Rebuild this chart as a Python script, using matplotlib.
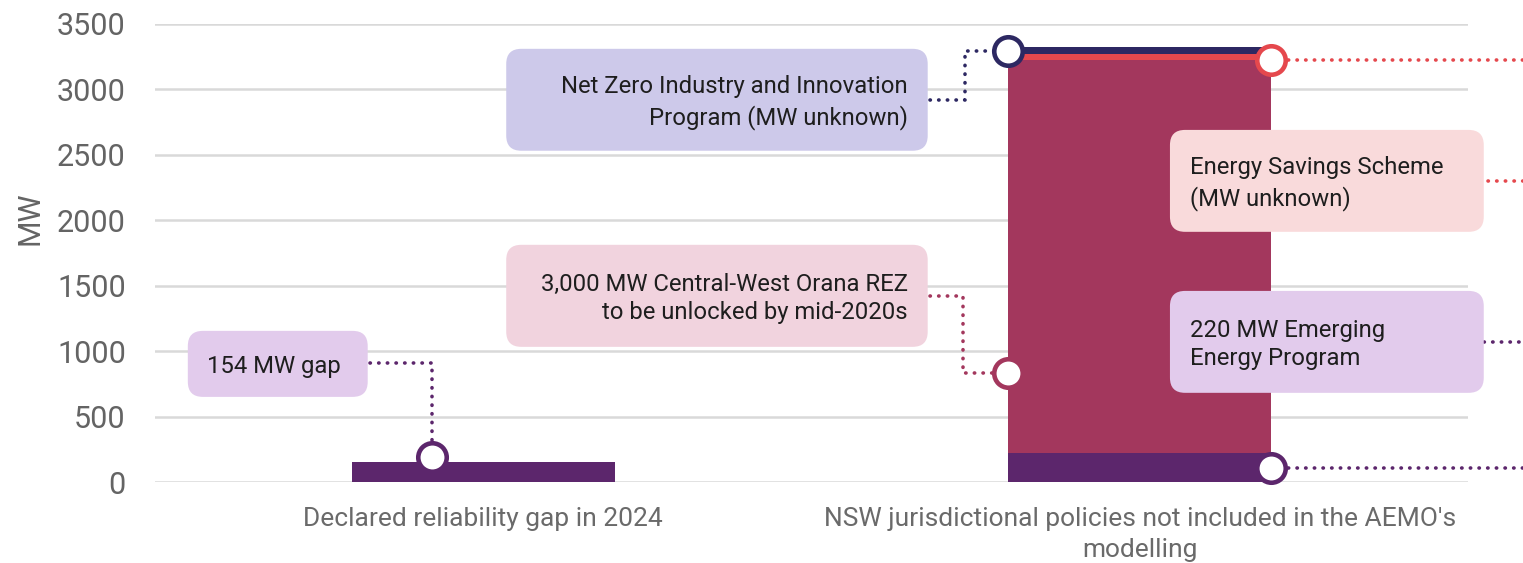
import matplotlib.pyplot as plt
from matplotlib.patches import FancyBboxPatch

# data
CATEGORIES = ["Declared reliability gap in 2024",
              "NSW jurisdictional policies not included in the AEMO's\nmodelling"]
GAP = [154, 0]
EMERGING = [0, 220]      # 220 MW Emerging Energy Program
REZ = [0, 3000]          # Central-West Orana REZ
ESS = [0, 50]            # Energy Savings Scheme (MW unknown, token band)
NZIP = [0, 50]           # Net Zero Industry and Innovation Program (token band)
Y_TICKS = [0, 500, 1000, 1500, 2000, 2500, 3000, 3500]

NAVY = '#2d2862'
RED = '#e5484d'
CRIMSON = '#a3375d'
PURPLE = '#5c266c'
GREY = '#646464'

plt.rcParams['font.family'] = ['Roboto', 'DejaVu Sans']

fig = plt.figure(figsize=(15.23, 5.63), dpi=100)
ax = fig.add_axes([155 / 1523, 80.7 / 563, 1313 / 1523, 458.5 / 563])

POS = list(range(len(CATEGORIES)))
WIDTH = 0.4

ax.bar(POS[0], GAP[0], width=WIDTH, color=PURPLE, zorder=2)
ax.bar(POS[1], EMERGING[1], width=WIDTH, color=PURPLE, zorder=2)
ax.bar(POS[1], REZ[1], bottom=EMERGING[1], width=WIDTH, color=CRIMSON, zorder=2)
base_ess = EMERGING[1] + REZ[1]
ax.bar(POS[1], ESS[1], bottom=base_ess, width=WIDTH, color=RED, zorder=2)
base_nzip = base_ess + ESS[1]
ax.bar(POS[1], NZIP[1], bottom=base_nzip, width=WIDTH, color=NAVY, zorder=2)

ax.set_xlim(-0.5, 1.5)
ax.set_ylim(0, 3500)
ax.set_yticks(Y_TICKS)
ax.set_xticks(POS)
ax.set_xticklabels(CATEGORIES, fontsize=19, color='#6a6a6a', linespacing=1.35)
ax.tick_params(axis='y', length=0, pad=21, labelsize=22, labelcolor=GREY)
ax.tick_params(axis='x', length=0, pad=18)
ax.set_ylabel('MW', fontsize=22, color=GREY)
ax.yaxis.set_label_coords(-0.084, 0.576)
ax.grid(axis='y', color='#d9d9d9', linewidth=1.8, zorder=0)
ax.set_axisbelow(True)
for s in ax.spines.values():
    s.set_visible(False)

# rounded label boxes: (x0, x1), (y0, y1), face colour, text, text x, alignment
ASPECT = 5012
BOXES = [
    ((0.035, 0.677), (2531, 3309), '#cdc9ea',
     'Net Zero Industry and Innovation\nProgram (MW unknown)', 0.647, 'right'),
    ((0.035, 0.677), (1034, 1813), '#f1d3de',
     '3,000 MW Central-West Orana REZ\nto be unlocked by mid-2020s', 0.647, 'right'),
    ((1.046, 1.524), (1912, 2690), '#f9dadb',
     'Energy Savings Scheme\n(MW unknown)', 1.077, 'left'),
    ((1.046, 1.524), (683, 1461), '#e2cbec',
     '220 MW Emerging\nEnergy Program', 1.077, 'left'),
    ((-0.45, -0.176), (652, 1156), '#e2cbec',
     '154 MW gap', -0.421, 'left'),
]
for (x0, x1), (y0, y1), fc, txt, tx, ha in BOXES:
    box = FancyBboxPatch((x0, y0), x1 - x0, y1 - y0,
                         boxstyle='round,pad=0,rounding_size=0.023',
                         mutation_aspect=ASPECT, fc=fc, ec='none',
                         zorder=3, clip_on=False)
    ax.add_patch(box)
    ax.text(tx, (y0 + y1) / 2 - 20, txt, ha=ha, va='center', multialignment=ha,
            fontsize=17.2, color='#1e1e1e', linespacing=1.33, zorder=4)

# dotted connectors
DOT = dict(linewidth=2.6, linestyle=(0, (0.1, 2.3)), dash_capstyle='round',
           zorder=1, clip_on=False)
ax.plot([0.6805, 0.7338, 0.7338, 0.8], [2918, 2918, 3295, 3295], color=NAVY, **DOT)
ax.plot([0.6805, 0.7308, 0.7308, 0.8], [1422, 1422, 834, 834], color=CRIMSON, **DOT)
ax.plot([1.2, 1.62], [3225, 3225], color=RED, **DOT)
ax.plot([1.53, 1.62], [2300, 2300], color=RED, **DOT)
ax.plot([1.525, 1.62], [1071, 1071], color=PURPLE, **DOT)
ax.plot([1.2, 1.62], [EMERGING[1] / 2, EMERGING[1] / 2], color=PURPLE, **DOT)
ax.plot([-0.1725, -0.078, -0.078], [910, 910, 190], color=PURPLE, **DOT)

# circle markers
MK = dict(marker='o', markersize=20.5, markerfacecolor='white',
          markeredgewidth=3.3, zorder=5, clip_on=False, linestyle='none')
ax.plot(-0.078, 190, markeredgecolor=PURPLE, **MK)
ax.plot(0.8, base_nzip + NZIP[1] / 2, markeredgecolor=NAVY, **MK)
ax.plot(1.2, 3225, markeredgecolor=RED, **MK)
ax.plot(0.8, 834, markeredgecolor=CRIMSON, **MK)
ax.plot(1.2, EMERGING[1] / 2, markeredgecolor=PURPLE, **MK)

fig.savefig('out.png', dpi=100)
